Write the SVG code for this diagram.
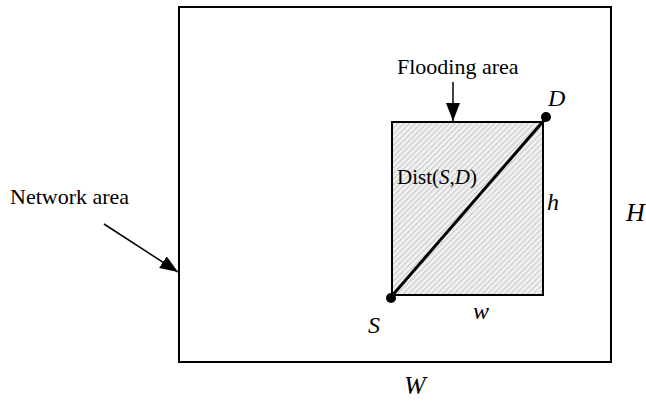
<svg xmlns="http://www.w3.org/2000/svg" width="646" height="402" viewBox="0 0 646 402">
<style>
.t{font-family:"Liberation Serif","Times New Roman",serif;fill:#000}
.lab{font-size:22px}
.it{font-style:italic}
.ln{stroke:#000;fill:none}
</style>
<defs>
<pattern id="hatch" width="4" height="4" patternUnits="userSpaceOnUse" patternTransform="rotate(45)">
<rect width="4" height="4" fill="#f3f3f3"/>
<rect width="1.6" height="4" fill="#d2d2d2"/>
</pattern>
<marker id="ah2" markerWidth="18" markerHeight="14" refX="18" refY="7" orient="auto" markerUnits="userSpaceOnUse" viewBox="0 0 18 14">
<path d="M0,0 L18,7 L0,14 Z" fill="#000"/>
</marker>
</defs>
<g id="network-area">
<rect x="179" y="7" width="432" height="355" class="ln" stroke-width="2"/>
<text class="t lab" x="10" y="204">Network area</text>
<text class="t it" x="626" y="221" font-size="26">H</text>
<text class="t it" x="404" y="394" font-size="26">W</text>
</g>
<g id="flooding-area">
<rect x="392" y="122" width="151" height="173" fill="url(#hatch)" stroke="#000" stroke-width="2"/>
<text class="t lab" x="397" y="74">Flooding area</text>
<text class="t it" x="547" y="210" font-size="24">h</text>
<text class="t it" x="473" y="319" font-size="24">w</text>
</g>
<g id="dist">
<line x1="391" y1="297" x2="546" y2="118" class="ln" stroke-width="3"/>
<text class="t" font-size="21" x="397" y="184">Dist(<tspan class="it">S</tspan>,<tspan class="it">D</tspan>)</text>
</g>
<g id="node-S">
<circle cx="391" cy="298" r="5" fill="#000"/>
<text class="t it" x="368" y="333" font-size="24">S</text>
</g>
<g id="node-D">
<circle cx="546" cy="117" r="5" fill="#000"/>
<text class="t it" x="548" y="106" font-size="24">D</text>
</g>
<g id="connectors">
<line x1="453" y1="82" x2="453" y2="121" class="ln" stroke-width="1.5" marker-end="url(#ah2)"/>
<line x1="104" y1="224" x2="178" y2="272" class="ln" stroke-width="1.5" marker-end="url(#ah2)"/>
</g>
</svg>
